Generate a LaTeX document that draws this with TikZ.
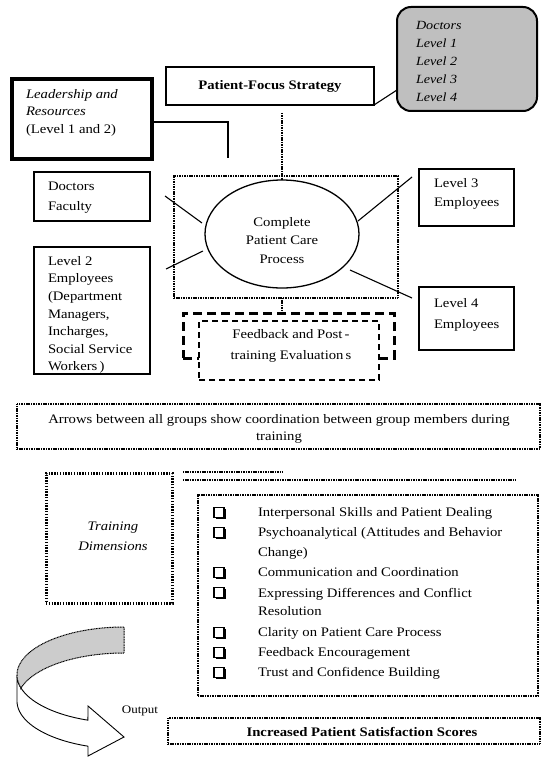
\documentclass[tikz,border=0pt]{standalone}
\usepackage{fontspec}
\setmainfont{Liberation Serif}[FakeStretch=1.13]
\usetikzlibrary{shapes.geometric,shadows}
\begin{document}
\begin{tikzpicture}[x=1pt,y=-1pt,
  every node/.style={inner sep=0pt, outer sep=0pt},
  sz/.style 2 args={minimum width=#1pt, minimum height=#2pt},
  sbox/.style={draw, line width=1.3pt},
  dbox/.style={draw, line width=1.4pt, dash pattern=on 1.1pt off 0.6pt},
  conn/.style={line width=1.1pt},
  dconn/.style={line width=1.4pt, dash pattern=on 1.1pt off 0.6pt},
  txt/.style={align=left, font=\fontsize{13}{#1}\selectfont},
  txt/.default=17.5,
  ctxt/.style={align=center, font=\fontsize{13}{#1}\selectfont},
  ctxt/.default=17.5,
  itxt/.style={align=left, anchor=west, font=\fontsize{13}{#1}\selectfont},
  itxt/.default=20,
  one/.style={text height=9pt, text depth=2.5pt},
  chk/.style={draw, line width=1.2pt, minimum size=10pt, fill=white,
    general shadow={fill=black, shadow xshift=1.8pt, shadow yshift=-1.8pt}},
]
\useasboundingbox (0,0) rectangle (541,757);
\fill[white] (0,0) rectangle (541,757);

% top boxes
\node[sbox, sz={140}{104}, rounded corners=14pt, line width=2pt, fill=gray!50] (gray) at (467,59) {};
\node[align=left, anchor=west, font=\fontsize{12.5}{18}\selectfont\itshape] (graytxt) at (416,61)
  {Doctors\\Level 1\\Level 2\\Level 3\\Level 4};
\node[sbox, sz={208}{38}, font=\fontsize{13}{16}\selectfont\bfseries] (pfs) at (270,86) {Patient-Focus Strategy};
\draw[conn] (pfs.south east) -- ([yshift=-31pt]gray.west);

\node[draw, line width=4pt, sz={140}{80}] (lead) at (82,119) {};
\node[txt, anchor=west] (leadtxt) at (26,112.5)
  {\textit{Leadership and}\\\textit{Resources}\\(Level 1 and 2)};
\coordinate (leadend) at (228,158);
\draw[line width=2pt] ([yshift=-3pt]lead.east) -| (leadend);

% core
\node[dbox, line width=1.6pt, sz={224}{122}] (core) at (286,237) {};
\node[draw, ellipse, line width=1.3pt, sz={154}{108}] (ell) at (282,234) {};
\node[ctxt=18.5] (elltxt) at (282,240.5) {Complete\\Patient Care\\Process};
\coordinate (vtop) at (282,113);
\draw[dconn] (vtop) -- (ell.north);

% side boxes
\node[sbox, sz={116}{49}] (df) at (92,196.5) {};
\node[txt=20, anchor=west] (dftxt) at (48,198) {Doctors\\Faculty};
\node[sbox, sz={116}{127}] (lv2) at (92,310.5) {};
\node[txt=17.6, anchor=west] (lv2txt) at (48,315)
  {Level 2\\Employees\\(Department\\Managers,\\Incharges,\\Social Service\\Workers\,)};
\node[sbox, sz={95}{57}] (lv3) at (466.5,197.5) {};
\node[txt=19, anchor=west] (lv3txt) at (434,193.5) {Level 3\\Employees};
\node[sbox, sz={95}{63}] (lv4) at (466.5,318.5) {};
\node[txt=21, anchor=west] (lv4txt) at (434,314.5) {Level 4\\Employees};

\coordinate (dfa) at (165,196); \coordinate (dfb) at (202,223);
\coordinate (l2a) at (166,269); \coordinate (l2b) at (203,251);
\coordinate (l3a) at (358,221); \coordinate (l3b) at (412,177);
\coordinate (l4a) at (350,270); \coordinate (l4b) at (412,298);
\draw[conn] (dfa) -- (dfb);
\draw[conn] (l2a) -- (l2b);
\draw[conn] (l3a) -- (l3b);
\draw[conn] (l4a) -- (l4b);

% feedback
\node[draw, line width=3pt, dash pattern=on 9pt off 5pt, sz={211}{45}] (fbo) at (288.5,335.5) {};
\node[draw, fill=white, line width=1.6pt, dash pattern=on 6pt off 4pt, sz={180}{59}] (fbi) at (289,350.5) {};
\node[ctxt=21] (fbtxt) at (291,345.5) {Feedback and Post\,-\\training Evaluation\,s};
\draw[dconn] (ell.south |- core.south) -- (ell.south |- fbo.north);

% arrows note
\node[dbox, sz={523}{45}] (arr) at (278.5,426.5) {};
\node[ctxt=17] (arrtxt) at (279,428.5)
  {Arrows between all groups show coordination between group members during\\training};

% training dimensions
\node[draw, line width=3pt, dash pattern=on 1.4pt off 1.4pt, sz={126}{130}] (trd) at (109,538) {};
\node[align=center, font=\fontsize{13}{20}\selectfont\itshape] (trdtxt) at (113,536) {Training\\Dimensions};

\coordinate (ra) at (183,472); \coordinate (rb) at (283,472);
\coordinate (rc) at (183,480); \coordinate (rd) at (515,480);
\draw[dconn] (ra) -- (rb);
\draw[dconn] (rc) -- (rd);

% items
\node[dbox, sz={340}{201}] (items) at (368,595.5) {};
\foreach \yy [count=\i] in {512.5,532.5,572.5,592.5,632.5,652.5,672.5}
  \node[chk] (ck\i) at (219,\yy) {};
\node[itxt, one] (it1) at (258,513) {Interpersonal Skills and Patient Dealing};
\node[itxt=20] (it2) at (258,543) {Psychoanalytical (Attitudes and Behavior\\Change)};
\node[itxt, one] (it3) at (258,573) {Communication and Coordination};
\node[itxt=18] (it4) at (258,602) {Expressing Differences and Conflict\\Resolution};
\node[itxt, one] (it5) at (258,633) {Clarity on Patient Care Process};
\node[itxt, one] (it6) at (258,653) {Feedback Encouragement};
\node[itxt, one] (it7) at (258,673) {Trust and Confidence Building};

% output
\node[dbox, sz={372}{26}] (inc) at (354,731) {};
\node[one, font=\fontsize{13}{16}\selectfont\bfseries] (inctxt) at (362,733) {Increased Patient Satisfaction Scores};
\node[one, font=\fontsize{11.5}{14}\selectfont] (outlbl) at (140,710) {Output};

% curved arrow
\draw[line width=0.9pt, fill=white]
  (17,675) -- plot[domain=180:109.7, samples=40] ({124+107*cos(\x)},{675+48*sin(\x)})
  -- (88,706) -- (124,737) -- (88,756) -- (88,746.2)
  -- plot[domain=109.7:180, samples=40] ({124+107*cos(\x)},{701+48*sin(\x)}) -- cycle;
\draw[line width=1pt, dash pattern=on 1pt off 0.6pt, fill=gray!40]
  (124,627) -- plot[domain=270:164.3, samples=50] ({124+107*cos(\x)},{675+48*sin(\x)})
  -- plot[domain=195.7:270, samples=50] ({124+107*cos(\x)},{701+48*sin(\x)}) -- cycle;
\end{tikzpicture}
\end{document}
